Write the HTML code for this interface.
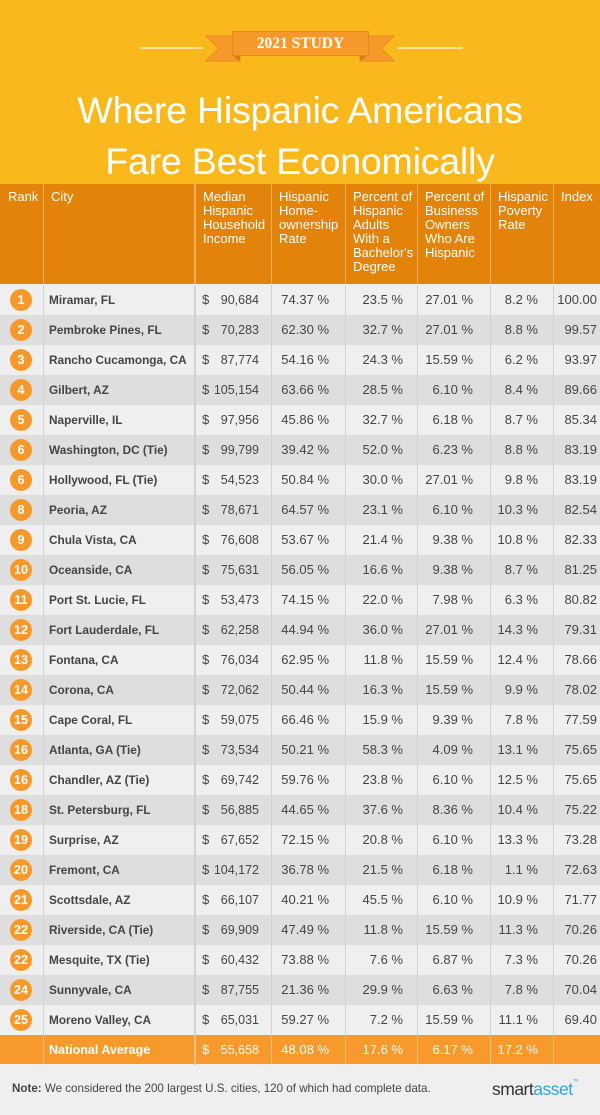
<!DOCTYPE html>
<html><head><meta charset="utf-8">
<style>
*{margin:0;padding:0;box-sizing:border-box}
body{width:600px;height:1115px;background:#efefef;font-family:"Liberation Sans",sans-serif;position:relative;overflow:hidden}
#top{position:absolute;left:0;top:0;width:600px;height:184px;background:#f9b81c}
.title{position:absolute;left:0;width:600px;text-align:center;color:#fff;font-size:37.5px;line-height:51px;top:85px;letter-spacing:-0.2px}
.study{position:absolute;left:232px;top:31px;width:137px;height:24px;text-align:center;color:#fff;font-family:"Liberation Serif",serif;font-weight:bold;font-size:15.5px;line-height:25px}
#hdr{position:absolute;left:0;top:184px;width:600px;height:100px;background:#e3830a;display:flex}
#hdr div{height:100px;color:#fff;font-size:13px;line-height:14px;padding:6px 0 0 7px;border-left:1px solid rgba(255,255,255,0.35)}
#hdr div:first-child{border-left:none;padding-left:8px}
.row{position:absolute;left:0;width:600px;height:30px;display:flex;font-size:13px;color:#444;line-height:30px}
.row>div{height:30px;border-left:1px solid #d2d2d2;white-space:nowrap}
.row>div:first-child{border-left:none}
.o{background:#efefef}.e{background:#dedede}
.c0{width:43px;position:relative}
.c1{width:151px;padding-left:5px;font-weight:bold;font-size:11.8px}
.c2{width:77px;position:relative;font-size:12.5px}
.c2 span:first-child{position:absolute;left:6px;top:0;font-size:13px}
.c2 span:last-child{position:absolute;right:12px;top:0}
.c3{width:74px;text-align:right;padding-right:16px}
.c4{width:72px;text-align:right;padding-right:14px}
.c5{width:73px;text-align:right;padding-right:17px}
.c6{width:63px;text-align:right;padding-right:15px}
.c7{width:47px;text-align:right;padding-right:3px}
.circ{position:absolute;left:10px;top:4px;width:22px;height:22px;border-radius:50%;background:#f6992a;color:#fff;font-weight:bold;font-size:12.5px;line-height:22px;text-align:center}
.nat{background:#f79a2b;color:#fff}
.nat>div{border-left:1px solid #fbc27f}
.nat>div:first-child{border-left:none}
#hdr .w2{border-left:2px solid rgba(255,255,255,0.35)}
.row .c2{border-left:2px solid #d2d2d2}
.nat .c2{border-left:2px solid #fbc27f}
.note{position:absolute;left:12px;top:1082px;font-size:11.6px;color:#444}
.logo{position:absolute;left:492px;top:1079px;font-size:17.5px;letter-spacing:-0.5px;color:#333}
</style></head><body>
<div id="top"></div>
<svg style="position:absolute;left:0;top:0" width="600" height="184">
<rect x="140" y="47" width="63" height="2" fill="#fde2a0"/>
<rect x="397" y="47" width="66" height="2" fill="#fde2a0"/>
<polygon points="206,36 240,36 240,61 206,61 219,48.5" fill="#f6992a" stroke="#e8891e" stroke-width="1"/>
<polygon points="394,36 360,36 360,61 394,61 381,48.5" fill="#f6992a" stroke="#e8891e" stroke-width="1"/>
<polygon points="232,55 240,55 240,61" fill="#d77a12"/>
<polygon points="368,55 360,55 360,61" fill="#d77a12"/>
<rect x="232.5" y="31.5" width="136" height="24" fill="#f6992a" stroke="#e8891e" stroke-width="1"/>
</svg>
<div class="study">2021 STUDY</div>
<div class="title">Where Hispanic Americans<br>Fare Best Economically</div>

<div id="hdr">
<div style="width:43px">Rank</div>
<div style="width:151px">City</div>
<div class="w2" style="width:77px">Median<br>Hispanic<br>Household<br>Income</div>
<div style="width:74px">Hispanic<br>Home-<br>ownership<br>Rate</div>
<div style="width:72px">Percent of<br>Hispanic<br>Adults<br>With a<br>Bachelor's<br>Degree</div>
<div style="width:73px">Percent of<br>Business<br>Owners<br>Who Are<br>Hispanic</div>
<div style="width:63px">Hispanic<br>Poverty<br>Rate</div>
<div style="width:47px">Index</div>
</div>

<div class="row o" style="top:285px"><div class="c0"><div class="circ">1</div></div><div class="c1">Miramar, FL</div><div class="c2"><span>$</span><span>90,684</span></div><div class="c3">74.37 %</div><div class="c4">23.5 %</div><div class="c5">27.01 %</div><div class="c6">8.2 %</div><div class="c7">100.00</div></div>
<div class="row e" style="top:315px"><div class="c0"><div class="circ">2</div></div><div class="c1">Pembroke Pines, FL</div><div class="c2"><span>$</span><span>70,283</span></div><div class="c3">62.30 %</div><div class="c4">32.7 %</div><div class="c5">27.01 %</div><div class="c6">8.8 %</div><div class="c7">99.57</div></div>
<div class="row o" style="top:345px"><div class="c0"><div class="circ">3</div></div><div class="c1">Rancho Cucamonga, CA</div><div class="c2"><span>$</span><span>87,774</span></div><div class="c3">54.16 %</div><div class="c4">24.3 %</div><div class="c5">15.59 %</div><div class="c6">6.2 %</div><div class="c7">93.97</div></div>
<div class="row e" style="top:375px"><div class="c0"><div class="circ">4</div></div><div class="c1">Gilbert, AZ</div><div class="c2"><span>$</span><span>105,154</span></div><div class="c3">63.66 %</div><div class="c4">28.5 %</div><div class="c5">6.10 %</div><div class="c6">8.4 %</div><div class="c7">89.66</div></div>
<div class="row o" style="top:405px"><div class="c0"><div class="circ">5</div></div><div class="c1">Naperville, IL</div><div class="c2"><span>$</span><span>97,956</span></div><div class="c3">45.86 %</div><div class="c4">32.7 %</div><div class="c5">6.18 %</div><div class="c6">8.7 %</div><div class="c7">85.34</div></div>
<div class="row e" style="top:435px"><div class="c0"><div class="circ">6</div></div><div class="c1">Washington, DC (Tie)</div><div class="c2"><span>$</span><span>99,799</span></div><div class="c3">39.42 %</div><div class="c4">52.0 %</div><div class="c5">6.23 %</div><div class="c6">8.8 %</div><div class="c7">83.19</div></div>
<div class="row o" style="top:465px"><div class="c0"><div class="circ">6</div></div><div class="c1">Hollywood, FL (Tie)</div><div class="c2"><span>$</span><span>54,523</span></div><div class="c3">50.84 %</div><div class="c4">30.0 %</div><div class="c5">27.01 %</div><div class="c6">9.8 %</div><div class="c7">83.19</div></div>
<div class="row e" style="top:495px"><div class="c0"><div class="circ">8</div></div><div class="c1">Peoria, AZ</div><div class="c2"><span>$</span><span>78,671</span></div><div class="c3">64.57 %</div><div class="c4">23.1 %</div><div class="c5">6.10 %</div><div class="c6">10.3 %</div><div class="c7">82.54</div></div>
<div class="row o" style="top:525px"><div class="c0"><div class="circ">9</div></div><div class="c1">Chula Vista, CA</div><div class="c2"><span>$</span><span>76,608</span></div><div class="c3">53.67 %</div><div class="c4">21.4 %</div><div class="c5">9.38 %</div><div class="c6">10.8 %</div><div class="c7">82.33</div></div>
<div class="row e" style="top:555px"><div class="c0"><div class="circ">10</div></div><div class="c1">Oceanside, CA</div><div class="c2"><span>$</span><span>75,631</span></div><div class="c3">56.05 %</div><div class="c4">16.6 %</div><div class="c5">9.38 %</div><div class="c6">8.7 %</div><div class="c7">81.25</div></div>
<div class="row o" style="top:585px"><div class="c0"><div class="circ">11</div></div><div class="c1">Port St. Lucie, FL</div><div class="c2"><span>$</span><span>53,473</span></div><div class="c3">74.15 %</div><div class="c4">22.0 %</div><div class="c5">7.98 %</div><div class="c6">6.3 %</div><div class="c7">80.82</div></div>
<div class="row e" style="top:615px"><div class="c0"><div class="circ">12</div></div><div class="c1">Fort Lauderdale, FL</div><div class="c2"><span>$</span><span>62,258</span></div><div class="c3">44.94 %</div><div class="c4">36.0 %</div><div class="c5">27.01 %</div><div class="c6">14.3 %</div><div class="c7">79.31</div></div>
<div class="row o" style="top:645px"><div class="c0"><div class="circ">13</div></div><div class="c1">Fontana, CA</div><div class="c2"><span>$</span><span>76,034</span></div><div class="c3">62.95 %</div><div class="c4">11.8 %</div><div class="c5">15.59 %</div><div class="c6">12.4 %</div><div class="c7">78.66</div></div>
<div class="row e" style="top:675px"><div class="c0"><div class="circ">14</div></div><div class="c1">Corona, CA</div><div class="c2"><span>$</span><span>72,062</span></div><div class="c3">50.44 %</div><div class="c4">16.3 %</div><div class="c5">15.59 %</div><div class="c6">9.9 %</div><div class="c7">78.02</div></div>
<div class="row o" style="top:705px"><div class="c0"><div class="circ">15</div></div><div class="c1">Cape Coral, FL</div><div class="c2"><span>$</span><span>59,075</span></div><div class="c3">66.46 %</div><div class="c4">15.9 %</div><div class="c5">9.39 %</div><div class="c6">7.8 %</div><div class="c7">77.59</div></div>
<div class="row e" style="top:735px"><div class="c0"><div class="circ">16</div></div><div class="c1">Atlanta, GA (Tie)</div><div class="c2"><span>$</span><span>73,534</span></div><div class="c3">50.21 %</div><div class="c4">58.3 %</div><div class="c5">4.09 %</div><div class="c6">13.1 %</div><div class="c7">75.65</div></div>
<div class="row o" style="top:765px"><div class="c0"><div class="circ">16</div></div><div class="c1">Chandler, AZ (Tie)</div><div class="c2"><span>$</span><span>69,742</span></div><div class="c3">59.76 %</div><div class="c4">23.8 %</div><div class="c5">6.10 %</div><div class="c6">12.5 %</div><div class="c7">75.65</div></div>
<div class="row e" style="top:795px"><div class="c0"><div class="circ">18</div></div><div class="c1">St. Petersburg, FL</div><div class="c2"><span>$</span><span>56,885</span></div><div class="c3">44.65 %</div><div class="c4">37.6 %</div><div class="c5">8.36 %</div><div class="c6">10.4 %</div><div class="c7">75.22</div></div>
<div class="row o" style="top:825px"><div class="c0"><div class="circ">19</div></div><div class="c1">Surprise, AZ</div><div class="c2"><span>$</span><span>67,652</span></div><div class="c3">72.15 %</div><div class="c4">20.8 %</div><div class="c5">6.10 %</div><div class="c6">13.3 %</div><div class="c7">73.28</div></div>
<div class="row e" style="top:855px"><div class="c0"><div class="circ">20</div></div><div class="c1">Fremont, CA</div><div class="c2"><span>$</span><span>104,172</span></div><div class="c3">36.78 %</div><div class="c4">21.5 %</div><div class="c5">6.18 %</div><div class="c6">1.1 %</div><div class="c7">72.63</div></div>
<div class="row o" style="top:885px"><div class="c0"><div class="circ">21</div></div><div class="c1">Scottsdale, AZ</div><div class="c2"><span>$</span><span>66,107</span></div><div class="c3">40.21 %</div><div class="c4">45.5 %</div><div class="c5">6.10 %</div><div class="c6">10.9 %</div><div class="c7">71.77</div></div>
<div class="row e" style="top:915px"><div class="c0"><div class="circ">22</div></div><div class="c1">Riverside, CA (Tie)</div><div class="c2"><span>$</span><span>69,909</span></div><div class="c3">47.49 %</div><div class="c4">11.8 %</div><div class="c5">15.59 %</div><div class="c6">11.3 %</div><div class="c7">70.26</div></div>
<div class="row o" style="top:945px"><div class="c0"><div class="circ">22</div></div><div class="c1">Mesquite, TX (Tie)</div><div class="c2"><span>$</span><span>60,432</span></div><div class="c3">73.88 %</div><div class="c4">7.6 %</div><div class="c5">6.87 %</div><div class="c6">7.3 %</div><div class="c7">70.26</div></div>
<div class="row e" style="top:975px"><div class="c0"><div class="circ">24</div></div><div class="c1">Sunnyvale, CA</div><div class="c2"><span>$</span><span>87,755</span></div><div class="c3">21.36 %</div><div class="c4">29.9 %</div><div class="c5">6.63 %</div><div class="c6">7.8 %</div><div class="c7">70.04</div></div>
<div class="row o" style="top:1005px"><div class="c0"><div class="circ">25</div></div><div class="c1">Moreno Valley, CA</div><div class="c2"><span>$</span><span>65,031</span></div><div class="c3">59.27 %</div><div class="c4">7.2 %</div><div class="c5">15.59 %</div><div class="c6">11.1 %</div><div class="c7">69.40</div></div>
<div class="row nat" style="top:1035px;height:29px;line-height:30px"><div class="c0"></div><div class="c1" style="font-size:12.5px">National Average</div><div class="c2"><span>$</span><span>55,658</span></div><div class="c3">48.08 %</div><div class="c4">17.6 %</div><div class="c5">6.17 %</div><div class="c6">17.2 %</div><div class="c7"></div></div>

<div class="note"><b>Note:</b> We considered the 200 largest U.S. cities, 120 of which had complete data.</div>
<div class="logo">smart<span style="color:#2aa7e0">asset</span><span style="font-size:6px;vertical-align:top;color:#2aa7e0">™</span></div>
</body></html>
